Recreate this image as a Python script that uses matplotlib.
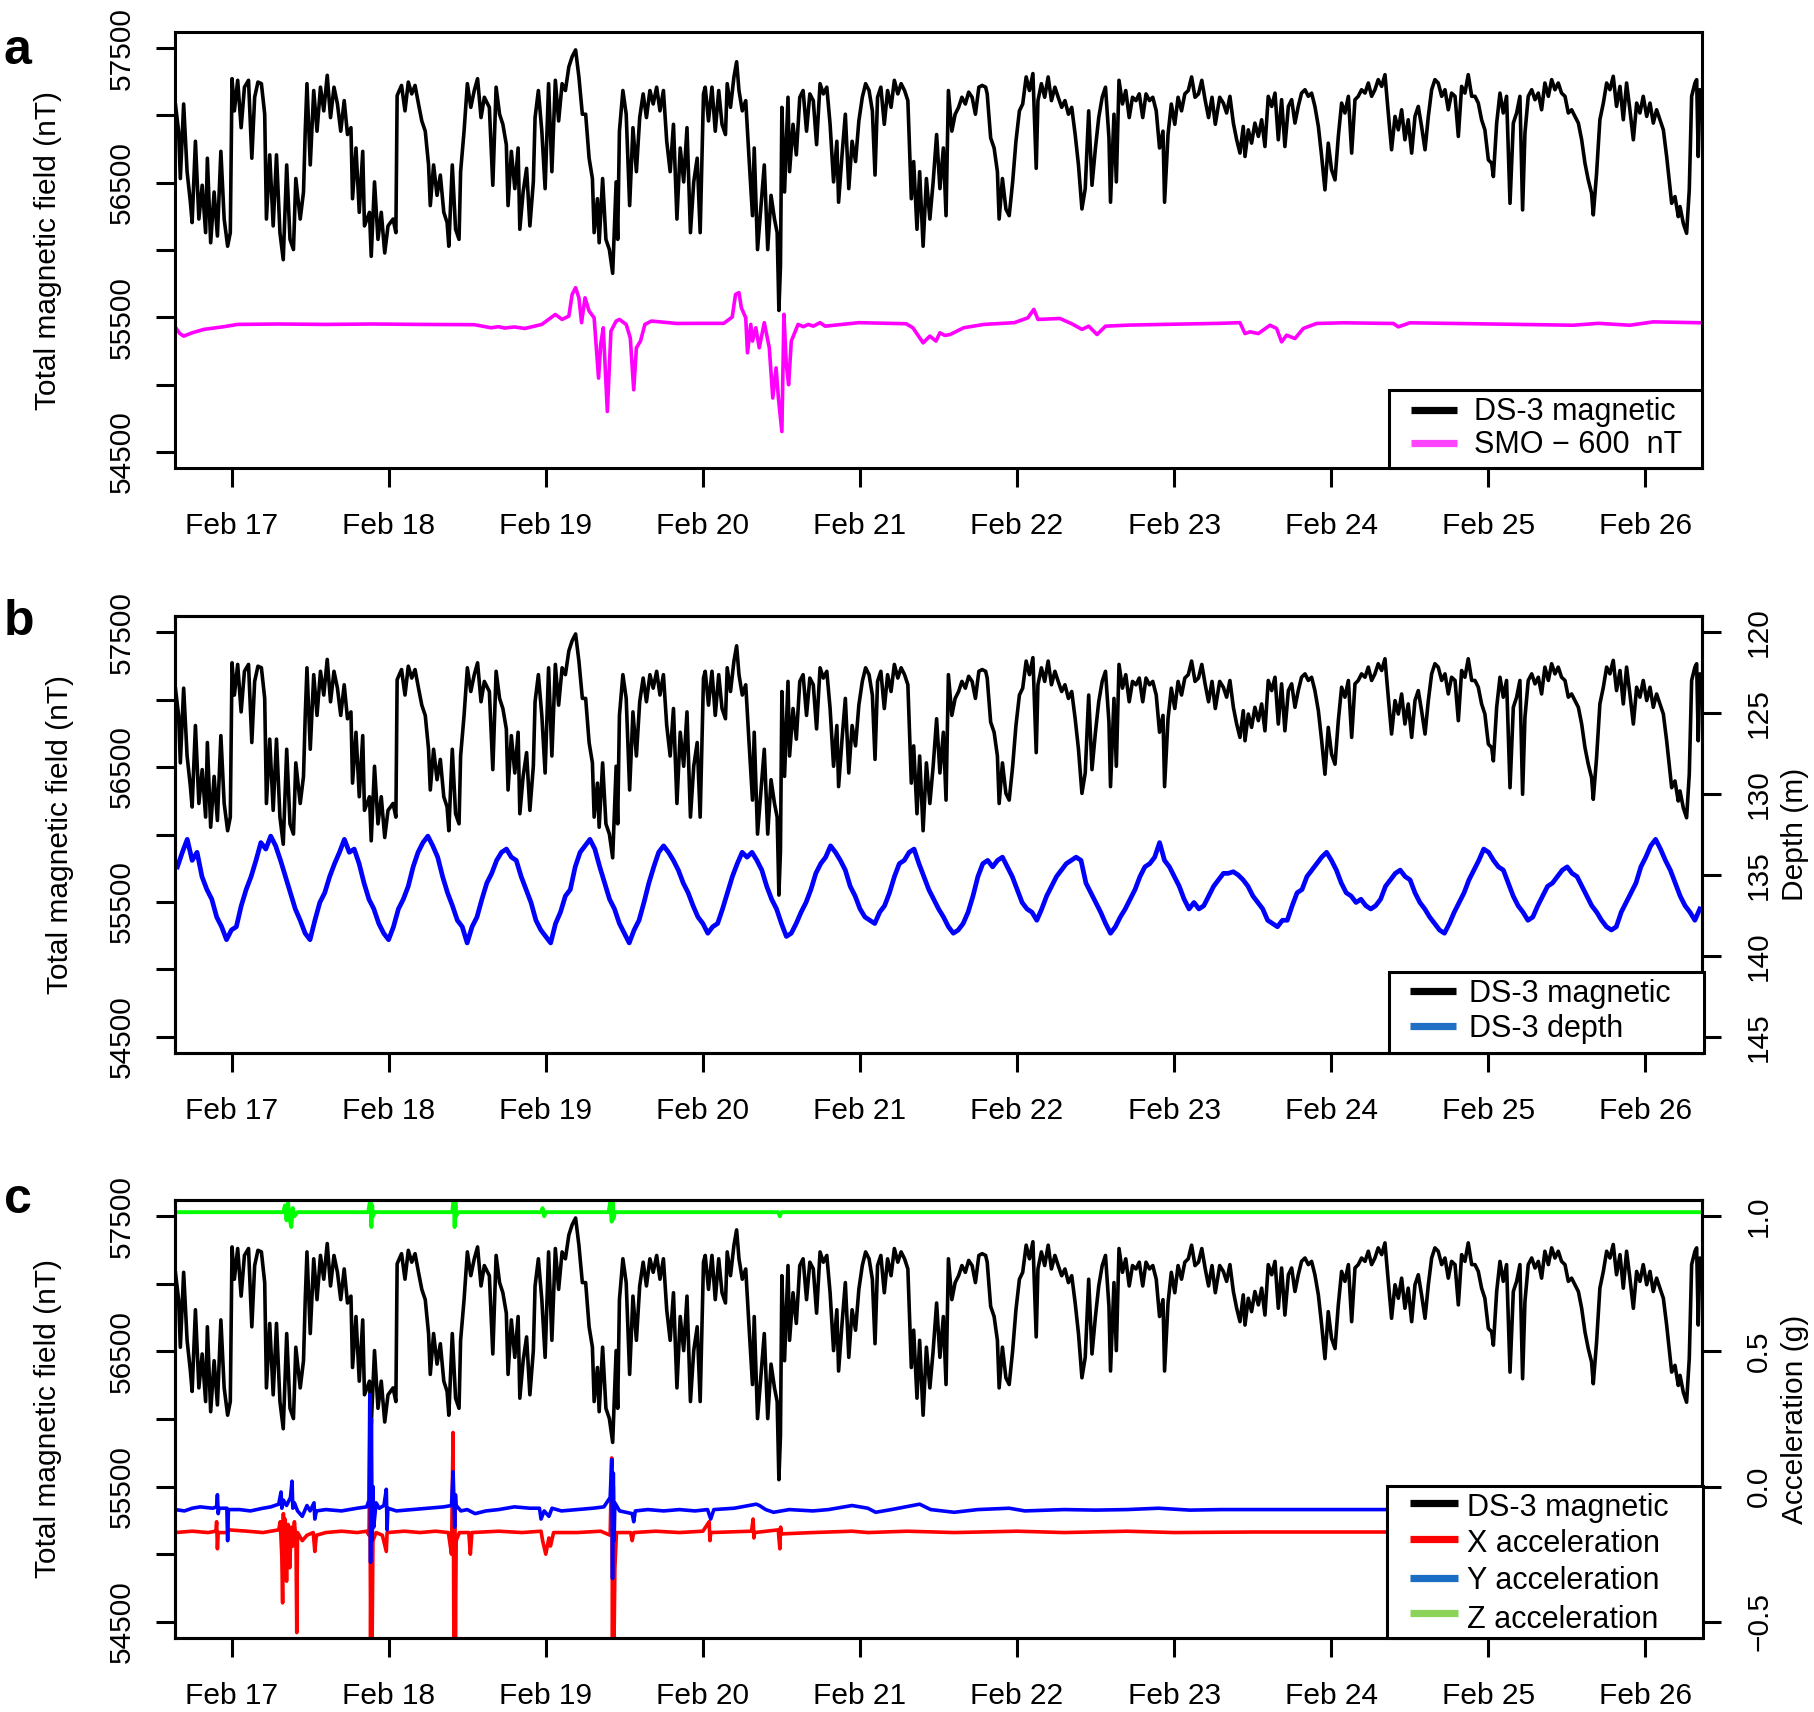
import numpy as np
import matplotlib
matplotlib.use('Agg')
import matplotlib.pyplot as plt
from matplotlib.lines import Line2D
from matplotlib.patches import Rectangle

plt.rcParams['font.family'] = ['Liberation Sans', 'DejaVu Sans']
plt.rcParams['font.size'] = 21.5

# time axis: days after Feb 17 00:00
day_ticks = list(range(10))
day_labels = ['Feb %d' % (17 + i) for i in range(10)]

# DS-3 total magnetic field (nT) as (day, nT)
mag_part1 = [
    (-0.360, 57110), (-0.337, 56883), (-0.326, 56531), (-0.305, 57085), (-0.283, 56582), (-0.262, 56355),
    (-0.251, 56204), (-0.230, 56808), (-0.208, 56230), (-0.187, 56481), (-0.165, 56129), (-0.154, 56682),
    (-0.133, 56054), (-0.111, 56431), (-0.090, 56104), (-0.068, 56733), (-0.047, 56230), (-0.025, 56028),
    (-0.008, 56129), (0.003, 57273), (0.018, 57034), (0.039, 57261), (0.061, 56909), (0.082, 57210),
    (0.108, 57261), (0.129, 56682), (0.147, 57135), (0.168, 57248), (0.190, 57236), (0.211, 57009),
    (0.222, 56230), (0.243, 56707), (0.265, 56179), (0.286, 56707), (0.308, 56129), (0.329, 55928),
    (0.351, 56632), (0.372, 56079), (0.394, 56003), (0.409, 56531), (0.437, 56230), (0.458, 56431),
    (0.469, 56883), (0.480, 57236), (0.501, 56632), (0.523, 57185), (0.544, 56883), (0.566, 57210),
    (0.587, 57034), (0.609, 57298), (0.630, 56984), (0.652, 57210), (0.674, 57085), (0.695, 56883),
    (0.717, 57110), (0.738, 56858), (0.760, 56909), (0.770, 56381), (0.792, 56758), (0.813, 56280),
    (0.835, 56733), (0.846, 56179), (0.878, 56280), (0.889, 55953), (0.910, 56506), (0.932, 56079),
    (0.953, 56280), (0.975, 55978), (0.996, 56179), (1.028, 56230), (1.046, 56129), (1.054, 57148),
    (1.082, 57223), (1.104, 57034), (1.125, 57248), (1.147, 57160), (1.168, 57223), (1.190, 57085),
    (1.211, 56959), (1.233, 56883), (1.254, 56632), (1.265, 56330), (1.286, 56632), (1.308, 56406),
    (1.329, 56557), (1.351, 56280), (1.372, 56204), (1.383, 56028), (1.405, 56632), (1.426, 56154),
    (1.448, 56079), (1.458, 56582), (1.480, 56883), (1.501, 57236), (1.523, 57060), (1.545, 57185),
    (1.566, 57273), (1.588, 56984), (1.609, 57135), (1.641, 57060), (1.663, 56481), (1.684, 57210),
    (1.706, 57009), (1.727, 56934), (1.749, 56783), (1.760, 56330), (1.781, 56733), (1.803, 56456),
    (1.824, 56758), (1.835, 56154), (1.856, 56431), (1.878, 56607), (1.899, 56179), (1.921, 56506),
    (1.932, 56984), (1.953, 57185), (1.975, 56883), (1.996, 56456), (2.018, 57236), (2.039, 56582),
    (2.061, 57261), (2.082, 56959), (2.104, 57236), (2.125, 57185), (2.147, 57361), (2.168, 57437),
    (2.190, 57487), (2.211, 57286), (2.233, 57009), (2.254, 57009), (2.276, 56682), (2.297, 56531),
    (2.308, 56129), (2.329, 56381), (2.340, 56054), (2.362, 56531), (2.383, 56079), (2.405, 56003),
    (2.426, 55827), (2.448, 56506), (2.458, 56079), (2.469, 56883), (2.491, 57185), (2.512, 57009),
    (2.534, 56330), (2.555, 56909), (2.577, 56582), (2.598, 56984), (2.620, 57160), (2.641, 56984),
    (2.663, 57185), (2.684, 57085), (2.706, 57210), (2.727, 57034), (2.749, 57185), (2.770, 56808),
    (2.792, 56582), (2.813, 56934), (2.835, 56230), (2.856, 56758), (2.878, 56506), (2.899, 56909),
    (2.921, 56129), (2.942, 56506), (2.964, 56682),
]
mag_part2 = [
    (2.983, 56129), (3.004, 57160), (3.015, 57210), (3.036, 56959), (3.058, 57210), (3.079, 56883),
    (3.101, 57185), (3.122, 56934), (3.144, 56858), (3.155, 57236), (3.176, 57060), (3.198, 57286),
    (3.215, 57399), (3.230, 57185), (3.251, 57034), (3.273, 57110), (3.294, 56682), (3.316, 56255),
    (3.327, 56758), (3.348, 56003), (3.370, 56330), (3.391, 56632), (3.413, 56003), (3.434, 56406),
    (3.456, 56230), (3.473, 56129), (3.484, 55551), (3.494, 55878), (3.503, 57060), (3.520, 56431),
    (3.542, 57135), (3.552, 56582), (3.574, 56934), (3.595, 56707), (3.617, 57135), (3.638, 57185),
    (3.660, 56883), (3.681, 57160), (3.703, 57110), (3.724, 56783), (3.746, 57236), (3.767, 57160),
    (3.789, 57210), (3.810, 56934), (3.832, 56506), (3.853, 56808), (3.864, 56355), (3.886, 56707),
    (3.907, 57009), (3.929, 56456), (3.950, 56808), (3.972, 56657), (3.993, 56959), (4.015, 57135),
    (4.036, 57236), (4.058, 57185), (4.079, 57034), (4.096, 56557), (4.112, 57135), (4.133, 57210),
    (4.155, 56934), (4.176, 57185), (4.198, 57060), (4.219, 57261), (4.241, 57160), (4.262, 57236),
    (4.284, 57185), (4.305, 57110), (4.327, 56381), (4.342, 56657), (4.363, 56154), (4.380, 56582),
    (4.402, 56028), (4.423, 56531), (4.445, 56230), (4.466, 56506), (4.488, 56858), (4.509, 56456),
    (4.531, 56758), (4.548, 56255), (4.563, 57185), (4.585, 56883), (4.606, 57009), (4.628, 57060),
    (4.649, 57135), (4.671, 57085), (4.692, 57173), (4.714, 57135), (4.735, 57009), (4.757, 57210),
    (4.778, 57223), (4.800, 57210), (4.810, 57160), (4.832, 56833), (4.854, 56758), (4.875, 56582),
    (4.886, 56230), (4.907, 56531), (4.929, 56305), (4.950, 56255), (4.972, 56506), (4.993, 56808),
    (5.015, 57034), (5.036, 57085), (5.058, 57286), (5.079, 57185), (5.101, 57311), (5.122, 56607),
    (5.133, 57110), (5.155, 57236), (5.176, 57135), (5.198, 57286), (5.219, 57110), (5.241, 57210),
    (5.262, 57135), (5.284, 57060), (5.305, 57110), (5.327, 57009), (5.348, 57060), (5.370, 56858),
    (5.391, 56632), (5.413, 56305), (5.434, 56456), (5.456, 57034), (5.477, 56481), (5.499, 56758),
    (5.520, 56984), (5.542, 57135), (5.563, 57210), (5.585, 56833), (5.595, 56355), (5.617, 57009),
    (5.632, 56506), (5.649, 57261), (5.671, 57085), (5.692, 57185), (5.714, 56984), (5.735, 57135),
    (5.757, 57110), (5.778, 57160), (5.800, 56984), (5.821, 57160), (5.843, 57110), (5.864, 57135),
    (5.886, 57034), (5.907, 56758), (5.929, 56883), (5.939, 56355), (5.961, 56858), (5.982, 57085),
    (6.004, 56934), (6.025, 57135), (6.047, 57034), (6.068, 57160), (6.090, 57185), (6.111, 57286),
    (6.133, 57135), (6.155, 57160), (6.176, 57261), (6.198, 57110), (6.219, 56984), (6.241, 57135),
    (6.262, 56934), (6.290, 57135),
]
mag_part3 = [
    (6.313, 57092), (6.334, 57018), (6.355, 57142), (6.377, 56943), (6.398, 56819), (6.419, 56720),
    (6.440, 56918), (6.451, 56695), (6.472, 56893), (6.493, 56794), (6.514, 56943), (6.536, 56844),
    (6.557, 56968), (6.578, 56769), (6.599, 57142), (6.621, 57067), (6.642, 57166), (6.663, 56819),
    (6.684, 57117), (6.705, 56769), (6.727, 57067), (6.748, 57117), (6.769, 56943), (6.790, 57067),
    (6.811, 57166), (6.833, 57191), (6.854, 57142), (6.875, 57166), (6.896, 57067), (6.918, 56918),
    (6.939, 56695), (6.960, 56447), (6.981, 56794), (7.002, 56596), (7.024, 56521), (7.045, 56844),
    (7.066, 57092), (7.087, 57018), (7.109, 57142), (7.130, 56720), (7.151, 57117), (7.172, 57142),
    (7.193, 57191), (7.215, 57166), (7.236, 57241), (7.257, 57142), (7.278, 57191), (7.299, 57266),
    (7.321, 57216), (7.342, 57303), (7.363, 57018), (7.384, 56745), (7.406, 56993), (7.427, 56893),
    (7.448, 57042), (7.469, 56819), (7.490, 56968), (7.512, 56720), (7.533, 56993), (7.554, 57067),
    (7.575, 56918), (7.597, 56745), (7.618, 56993), (7.639, 57191), (7.660, 57266), (7.681, 57241),
    (7.703, 57142), (7.724, 57191), (7.745, 57042), (7.766, 57166), (7.788, 57142), (7.809, 56844),
    (7.830, 57216), (7.851, 57166), (7.872, 57303), (7.894, 57142), (7.915, 57142), (7.936, 57092),
    (7.957, 56968), (7.978, 56893), (8.000, 56670), (8.021, 56645), (8.032, 56546), (8.053, 56943),
    (8.074, 57166), (8.095, 57018), (8.116, 57142), (8.138, 56347), (8.159, 56943), (8.180, 57018),
    (8.201, 57142), (8.218, 56298), (8.233, 56869), (8.254, 57142), (8.276, 57191), (8.297, 57117),
    (8.318, 57166), (8.339, 57042), (8.360, 57241), (8.382, 57142), (8.403, 57266), (8.424, 57191),
    (8.445, 57241), (8.466, 57166), (8.488, 57142), (8.509, 57018), (8.530, 57042), (8.551, 56993),
    (8.573, 56943), (8.594, 56819), (8.615, 56645), (8.636, 56521), (8.657, 56422), (8.668, 56261),
    (8.689, 56571), (8.710, 56968), (8.732, 57092), (8.753, 57241), (8.774, 57191), (8.795, 57291),
    (8.816, 57067), (8.838, 57216), (8.859, 56968), (8.880, 57241), (8.901, 57042), (8.923, 56819),
    (8.944, 57092), (8.965, 57018), (8.986, 57142), (9.008, 56993), (9.029, 57092), (9.050, 56943),
    (9.071, 57042), (9.092, 56968), (9.114, 56893), (9.135, 56695), (9.156, 56471), (9.167, 56347),
    (9.188, 56397), (9.209, 56248), (9.220, 56323), (9.241, 56198), (9.262, 56124), (9.279, 56447),
    (9.294, 57142), (9.315, 57241), (9.326, 57266), (9.336, 56695), (9.347, 57191), (9.360, 57050),
]

# SMO observatory field minus 600 nT, (day, nT)
smo_pts = [
    (-0.36, 55430), (-0.33, 55380), (-0.305, 55360), (-0.25, 55385), (-0.176, 55410), (-0.05, 55430),
    (0.039, 55447), (0.3, 55450), (0.6, 55447), (0.9, 55450), (1.2, 55447), (1.545, 55445),
    (1.652, 55422), (1.70, 55430), (1.738, 55420), (1.80, 55428), (1.867, 55417), (1.975, 55447),
    (2.061, 55521), (2.104, 55484), (2.147, 55509), (2.168, 55670), (2.190, 55720), (2.211, 55645),
    (2.228, 55460), (2.250, 55645), (2.276, 55546), (2.308, 55496), (2.336, 55048), (2.350, 55300),
    (2.366, 55422), (2.392, 54800), (2.415, 55397), (2.448, 55472), (2.469, 55484), (2.512, 55447),
    (2.538, 55347), (2.560, 54961), (2.577, 55273), (2.603, 55323), (2.631, 55447), (2.673, 55472),
    (2.835, 55454), (2.981, 55455), (3.133, 55455), (3.187, 55502), (3.208, 55670), (3.230, 55683),
    (3.245, 55571), (3.273, 55496), (3.284, 55236), (3.305, 55447), (3.316, 55323), (3.337, 55422),
    (3.359, 55273), (3.391, 55460), (3.423, 55273), (3.445, 54900), (3.466, 55124), (3.481, 54900),
    (3.503, 54651), (3.516, 55522), (3.531, 55149), (3.546, 54999), (3.563, 55323), (3.606, 55447),
    (3.640, 55430), (3.671, 55447), (3.703, 55434), (3.746, 55460), (3.778, 55434), (3.993, 55460),
    (4.294, 55452), (4.337, 55422), (4.402, 55310), (4.445, 55360), (4.484, 55323), (4.509, 55385),
    (4.540, 55365), (4.574, 55372), (4.660, 55422), (4.789, 55447), (4.983, 55460), (5.069, 55496),
    (5.107, 55559), (5.133, 55484), (5.273, 55491), (5.348, 55452), (5.413, 55410), (5.456, 55434),
    (5.509, 55372), (5.563, 55434), (5.714, 55442), (5.929, 55447), (6.290, 55455), (6.419, 55460),
    (6.451, 55379), (6.483, 55392), (6.536, 55379), (6.610, 55441), (6.652, 55417), (6.684, 55317),
    (6.716, 55367), (6.769, 55342), (6.822, 55417), (6.907, 55454), (7.077, 55459), (7.395, 55454),
    (7.427, 55429), (7.501, 55459), (8.541, 55441), (8.700, 55455), (8.901, 55441), (9.050, 55466),
    (9.36, 55459),
]

# DS-3 depth (m), sampled every 0.03126 day from day -0.3446
depth_t0 = -0.3446
depth_dt = 0.03126
depth_m = [
    134.5, 133.6, 132.8, 134.1, 133.6, 135.1, 135.9, 136.5, 137.6, 138.2,
    139.0, 138.4, 138.2, 136.9, 135.9, 135.1, 134.1, 133.0, 133.4, 132.6,
    133.2, 134.1, 135.1, 136.1, 137.1, 137.8, 138.6, 139.0, 137.8, 136.7,
    136.1, 135.1, 134.3, 133.6, 132.8, 133.6, 133.4, 134.3, 135.5, 136.5,
    137.1, 138.0, 138.6, 139.0, 138.2, 137.1, 136.5, 135.7, 134.5, 133.6,
    133.0, 132.6, 133.2, 133.9, 135.1, 136.1, 136.9, 137.8, 138.2, 139.2,
    138.2, 137.6, 136.5, 135.5, 134.9, 134.1, 133.6, 133.4, 133.9, 134.1,
    135.1, 135.9, 136.7, 137.8, 138.4, 138.8, 139.2, 138.0, 137.3, 136.3,
    135.9, 134.5, 133.6, 133.2, 132.8, 133.4, 134.5, 135.5, 136.5, 137.1,
    138.0, 138.6, 139.2, 138.4, 137.8, 136.7, 135.5, 134.5, 133.6, 133.2,
    133.6, 134.1, 134.7, 135.5, 136.1, 136.9, 137.6, 138.0, 138.6, 138.2,
    138.0, 137.1, 136.1, 135.1, 134.3, 133.6, 133.9, 133.6, 134.1, 134.7,
    135.7, 136.5, 137.1, 138.0, 138.8, 138.6, 138.0, 137.3, 136.7, 135.9,
    134.9, 134.3, 133.9, 133.2, 133.6, 134.1, 134.7, 135.7, 136.3, 137.1,
    137.6, 137.8, 138.0, 137.3, 136.9, 136.1, 135.1, 134.3, 134.1, 133.6,
    133.4, 134.3, 135.1, 135.9, 136.5, 137.1,
    137.6, 138.2, 138.6, 138.4, 138.0, 137.3, 136.3, 135.1, 134.3, 134.1,
    134.5, 134.1, 133.9, 134.5, 135.1, 135.9, 136.7, 137.1, 137.3, 137.8,
    137.1, 136.3, 135.7, 135.1, 134.7, 134.3, 134.1, 133.9, 134.1, 135.5,
    136.1, 136.7, 137.3, 138.0, 138.6, 138.2, 137.6, 137.1, 136.5, 135.9,
    135.1, 134.5, 134.3, 133.9, 133.0, 134.1, 134.5, 135.1, 135.7, 136.5,
    137.1, 136.7, 137.1, 136.9, 136.3, 135.7, 135.3, 134.9, 134.9, 134.8,
    135.0, 135.3, 135.7, 136.3, 136.7, 137.1, 137.8, 138.0, 138.2, 137.8,
    137.8, 136.9, 136.1, 135.9, 135.1, 134.7, 134.3, 133.9, 133.6, 134.1,
    134.7, 135.5, 136.1, 136.3, 136.7, 136.5, 136.9, 137.1, 136.9, 136.5,
    135.7, 135.3, 134.9, 134.7, 135.1, 135.3, 136.1, 136.7, 137.1, 137.6,
    138.0, 138.4, 138.6, 138.0, 137.3, 136.7, 136.1, 135.3, 134.7, 134.1,
    133.4, 133.6, 134.1, 134.5, 134.7, 135.5, 136.3, 136.9, 137.3, 137.8,
    137.6, 136.9, 136.3, 135.7, 135.5, 135.1, 134.7, 134.5, 134.9, 135.1,
    135.7, 136.3, 136.9, 137.3, 137.8, 138.2, 138.4, 138.2, 137.3, 136.7,
    136.1, 135.5, 134.5, 133.9, 133.2, 132.8, 133.4, 134.1, 134.7, 135.5,
    136.3, 136.9, 137.3, 137.8, 137.1,
]

# accelerometer (g), (day, g)
acc_x = [
    (-0.36, -0.17), (-0.25, -0.165), (-0.15, -0.17), (-0.10, -0.165), (-0.095, -0.13), (-0.09, -0.23),
    (-0.085, -0.17), (-0.03, -0.17), (-0.02, -0.16), (0.1, -0.165), (0.2, -0.17), (0.25, -0.165),
    (0.30, -0.16), (0.31, -0.13), (0.32, -0.26), (0.325, -0.43), (0.33, -0.1), (0.335, -0.3),
    (0.34, -0.12), (0.35, -0.35), (0.36, -0.14), (0.37, -0.3), (0.38, -0.15), (0.39, -0.22),
    (0.40, -0.13), (0.41, -0.2), (0.415, -0.54), (0.42, -0.17), (0.45, -0.2), (0.48, -0.18),
    (0.52, -0.17), (0.53, -0.24), (0.54, -0.18), (0.60, -0.17), (0.70, -0.165), (0.80, -0.17),
    (0.86, -0.165), (0.875, -0.18), (0.88, 0.16), (0.885, -0.56), (0.89, -0.1), (0.895, -0.56),
    (0.90, -0.2), (0.92, -0.17), (0.96, -0.18), (0.985, -0.24), (0.99, -0.17), (1.1, -0.165),
    (1.2, -0.17), (1.3, -0.165), (1.38, -0.17), (1.40, -0.25), (1.41, 0.2), (1.415, -0.56),
    (1.42, -0.05), (1.425, -0.56), (1.43, -0.2), (1.45, -0.17), (1.51, -0.17), (1.52, -0.25),
    (1.53, -0.17), (1.7, -0.165), (1.85, -0.17), (1.97, -0.165), (1.98, -0.2), (2.0, -0.25),
    (2.02, -0.19), (2.03, -0.22), (2.05, -0.17), (2.2, -0.17), (2.35, -0.165), (2.41, -0.18),
    (2.42, 0.106), (2.425, -0.56), (2.43, 0.0), (2.435, -0.56), (2.44, -0.3), (2.45, -0.17),
    (2.54, -0.17), (2.55, -0.2), (2.56, -0.17), (2.7, -0.165), (2.85, -0.17), (3.0, -0.165),
    (3.04, -0.13), (3.045, -0.2), (3.05, -0.17), (3.31, -0.165), (3.32, -0.12), (3.325, -0.19),
    (3.33, -0.17), (3.48, -0.16), (3.49, -0.23), (3.495, -0.15), (3.5, -0.175), (3.7, -0.17),
    (3.95, -0.165), (4.05, -0.17), (4.3, -0.165), (4.6, -0.17), (5.0, -0.165), (5.3, -0.17),
    (5.7, -0.165), (6.0, -0.17), (6.5, -0.168), (9.36, -0.168),
]
acc_y = [
    (-0.36, -0.085), (-0.30, -0.09), (-0.25, -0.08), (-0.20, -0.075), (-0.12, -0.08), (-0.095, -0.075),
    (-0.09, -0.03), (-0.085, -0.10), (-0.08, -0.08), (-0.03, -0.08), (-0.025, -0.20), (-0.02, -0.085),
    (0.05, -0.085), (0.12, -0.09), (0.2, -0.08), (0.25, -0.075), (0.30, -0.065), (0.315, -0.02),
    (0.32, -0.08), (0.33, -0.05), (0.35, -0.07), (0.375, -0.04), (0.385, 0.02), (0.39, -0.08),
    (0.40, -0.06), (0.42, -0.09), (0.45, -0.11), (0.48, -0.07), (0.50, -0.09), (0.525, -0.06),
    (0.53, -0.12), (0.54, -0.09), (0.60, -0.085), (0.70, -0.09), (0.80, -0.08), (0.86, -0.075),
    (0.875, -0.05), (0.88, 0.34), (0.885, -0.28), (0.89, 0.25), (0.895, -0.2), (0.90, 0.0),
    (0.905, -0.15), (0.92, -0.06), (0.94, -0.08), (0.97, -0.07), (0.985, -0.01), (0.99, -0.16),
    (0.995, -0.08), (1.05, -0.09), (1.15, -0.085), (1.25, -0.08), (1.35, -0.075), (1.40, -0.07),
    (1.41, 0.055), (1.42, -0.15), (1.425, -0.03), (1.43, -0.07), (1.46, -0.09), (1.50, -0.085),
    (1.55, -0.10), (1.62, -0.09), (1.70, -0.085), (1.80, -0.075), (1.90, -0.08), (1.96, -0.08),
    (1.97, -0.12), (1.99, -0.09), (2.02, -0.11), (2.04, -0.08), (2.10, -0.09), (2.20, -0.085),
    (2.30, -0.08), (2.37, -0.075), (2.41, -0.04), (2.42, 0.1), (2.425, -0.34), (2.43, 0.05),
    (2.435, -0.2), (2.44, -0.06), (2.47, -0.09), (2.55, -0.1), (2.56, -0.13), (2.57, -0.09),
    (2.65, -0.085), (2.75, -0.09), (2.85, -0.085), (2.95, -0.09), (3.03, -0.085), (3.05, -0.12),
    (3.07, -0.085), (3.20, -0.08), (3.34, -0.065), (3.36, -0.07), (3.40, -0.085), (3.45, -0.095),
    (3.55, -0.085), (3.70, -0.09), (3.80, -0.085), (3.95, -0.07), (4.05, -0.08), (4.10, -0.095),
    (4.20, -0.085), (4.38, -0.065), (4.45, -0.085), (4.60, -0.095), (4.75, -0.085), (4.95, -0.08),
    (5.05, -0.09), (5.30, -0.085), (5.50, -0.087), (5.70, -0.085), (5.90, -0.08), (6.10, -0.087),
    (6.30, -0.085), (9.36, -0.085),
]
acc_z = [
    (-0.36, 1.015), (-0.2, 1.015), (0.33, 1.015), (0.34, 1.04), (0.35, 0.985), (0.36, 1.05),
    (0.37, 0.99), (0.38, 0.96), (0.39, 1.03), (0.40, 1.0), (0.42, 1.015), (0.87, 1.015),
    (0.885, 1.07), (0.89, 0.96), (0.895, 1.04), (0.90, 1.0), (0.91, 1.015), (1.405, 1.015),
    (1.415, 1.075), (1.42, 0.96), (1.425, 1.05), (1.43, 1.0), (1.44, 1.015), (1.97, 1.015),
    (1.98, 1.03), (1.99, 1.0), (2.0, 1.015), (2.40, 1.015), (2.41, 1.05), (2.42, 0.98),
    (2.425, 1.06), (2.43, 0.99), (2.44, 1.015), (3.48, 1.015), (3.49, 1.0), (3.5, 1.015),
    (9.36, 1.015),
]

mag = np.array(mag_part1 + mag_part2 + mag_part3)
smo = np.array(smo_pts)
depth_days = depth_t0 + depth_dt * np.arange(len(depth_m))
ax_ = np.array(acc_x)
ay_ = np.array(acc_y)
az_ = np.array(acc_z)

W, H = 1815.0, 1712.0
fig = plt.figure(figsize=(W / 100, H / 100), dpi=100)

LW_FRAME = 2.2


def make_panel(top, bottom):
    ax = fig.add_axes([175 / W, 1 - bottom / H, (1702 - 175) / W, (bottom - top) / H])
    ax.set_xlim(-0.36, 9.36)
    ax.set_ylim(54380, 57620)
    ax.set_xticks(day_ticks)
    ax.set_xticklabels(day_labels)
    yt = np.arange(54500, 57501, 500)
    ax.set_yticks(yt)
    ax.set_yticklabels([str(v) if v % 1000 == 500 else '' for v in yt])
    for s in ax.spines.values():
        s.set_linewidth(LW_FRAME)
    ax.tick_params(direction='out', length=13.5, width=LW_FRAME)
    ax.tick_params(axis='x', pad=18.5)
    ax.tick_params(axis='y', pad=15, labelrotation=90)
    for lab in ax.get_yticklabels():
        lab.set_va('center')
    ax.set_ylabel('Total magnetic field (nT)')
    ax.plot(mag[:, 0], mag[:, 1], color='black', lw=2.6, zorder=3)
    return ax


def style_right(ax2):
    for s in ax2.spines.values():
        s.set_linewidth(LW_FRAME)
    ax2.tick_params(direction='out', length=13.5, width=LW_FRAME, pad=17.5, labelrotation=90)
    for lab in ax2.get_yticklabels():
        lab.set_va('center')


def px(x, y):
    # figure pixel (from top-left) -> figure fraction
    return x / W, 1 - y / H


def legend_box(x0, y0, x1, y1, xl0, xl1, xt, entries):
    fx, fy = px(x0, y1)
    fig.add_artist(Rectangle((fx, fy), (x1 - x0) / W, (y1 - y0) / H, transform=fig.transFigure,
                             facecolor='white', edgecolor='black', lw=LW_FRAME, zorder=5))
    for label, color, yline, ybase in entries:
        a, b = px(xl0, yline)
        c, _ = px(xl1, yline)
        fig.add_artist(Line2D([a, c], [b, b], transform=fig.transFigure, color=color, lw=5.2,
                              solid_capstyle='butt', zorder=6))
        tx, ty = px(xt, ybase)
        fig.text(tx, ty, label, fontsize=22, va='baseline', ha='left', zorder=7)


# panel a
ax_a = make_panel(32, 468)
ax_a.plot(smo[:, 0], smo[:, 1], color='#ff00ff', lw=2.6, zorder=2)
ax_a.yaxis.set_label_coords(-0.074, 0.5)
legend_box(1389, 390, 1702, 468, 1411, 1457, 1474,
           [('DS-3 magnetic', 'black', 410, 420), ('SMO \u2212 600  nT', '#ff44ff', 443, 453)])

# panel b
ax_b = make_panel(616, 1053)
ax_b.yaxis.set_label_coords(-0.066, 0.5)
ax_b2 = ax_b.twinx()
ax_b2.plot(depth_days, depth_m, color='#0000ff', lw=3.4)
ax_b2.set_ylim(146, 119)
ax_b2.set_yticks([120, 125, 130, 135, 140, 145])
style_right(ax_b2)
ax_b2.set_ylabel('Depth (m)')
ax_b2.yaxis.set_label_coords(1.052, 0.5)
legend_box(1389, 972, 1704, 1053, 1410, 1456, 1469,
           [('DS-3 magnetic', 'black', 991, 1002), ('DS-3 depth', '#1f6fc4', 1026, 1037)])

# panel c
ax_c = make_panel(1200, 1638)
ax_c.yaxis.set_label_coords(-0.074, 0.5)
ax_c2 = ax_c.twinx()
ax_c2.plot(az_[:, 0], az_[:, 1], color='#00ff00', lw=2.8)
ax_c2.plot(ax_[:, 0], ax_[:, 1], color='#ff0000', lw=2.6)
ax_c2.plot(ay_[:, 0], ay_[:, 1], color='#0000ff', lw=2.6)
ax_c2.set_ylim(-0.56, 1.06)
ax_c2.set_yticks([-0.5, 0.0, 0.5, 1.0])
ax_c2.set_yticklabels(['\u22120.5', '0.0', '0.5', '1.0'])
style_right(ax_c2)
ax_c2.set_ylabel('Acceleration (g)')
ax_c2.yaxis.set_label_coords(1.052, 0.5)
legend_box(1387, 1486, 1703, 1638, 1410, 1458, 1467,
           [('DS-3 magnetic', 'black', 1503, 1516), ('X acceleration', '#ff0000', 1539, 1552),
            ('Y acceleration', '#1a6fc4', 1578, 1589), ('Z acceleration', '#8cd35a', 1613, 1628)])

# panel letters
for letter, ybase in [('a', 64), ('b', 635), ('c', 1213)]:
    fig.text(4 / W, 1 - ybase / H, letter, fontsize=36, fontweight='bold', va='baseline', ha='left')

fig.savefig('out.png', dpi=100)
